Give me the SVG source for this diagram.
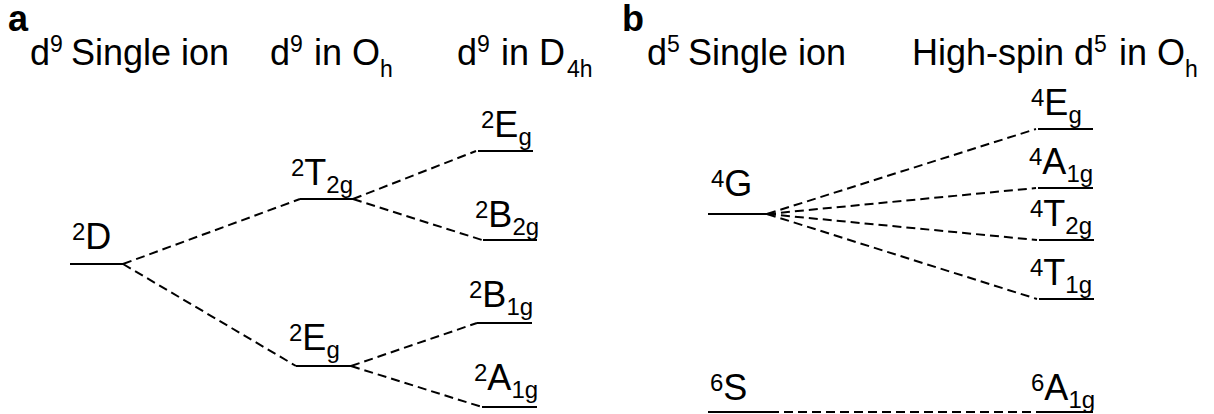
<svg xmlns="http://www.w3.org/2000/svg" width="1214" height="414" viewBox="0 0 1214 414">
<style>
text{font-family:"Liberation Sans",Arial,sans-serif;fill:#000}
.hdr{font-size:36px}
.pl{font-size:36px;font-weight:bold}
.lbl{font-size:36px}
.sm{font-size:24px}
.hs{font-size:23px}
.lvl{stroke:#000;stroke-width:2;fill:none}
.cn{stroke:#000;stroke-width:2;fill:none;stroke-dasharray:9 5}
</style>
<rect width="1214" height="414" fill="#fff"/>
<g id="headers">
<text class="pl" x="8" y="31">a</text>
<text class="pl" x="622" y="31">b</text>
<text class="hdr" x="30" y="65">d<tspan class="hs" dy="-13">9</tspan><tspan x="71" dy="13">Single ion</tspan></text>
<text class="hdr" x="270" y="65">d<tspan class="hs" dy="-13">9</tspan><tspan x="314" dy="13">in O</tspan><tspan class="hs" x="380" dy="12">h</tspan></text>
<text class="hdr" x="457" y="65">d<tspan class="hs" dy="-13">9</tspan><tspan x="501" dy="13">in D</tspan><tspan class="hs" x="567" dy="12">4h</tspan></text>
<text class="hdr" x="647" y="65">d<tspan class="hs" dy="-13">5</tspan><tspan x="688" dy="13">Single ion</tspan></text>
<text class="hdr" x="912" y="65">High-spin d<tspan class="hs" dy="-13">5</tspan><tspan x="1119" dy="13">in O</tspan><tspan class="hs" x="1185" dy="12">h</tspan></text>
</g>
<g id="connectors">
<line class="cn" x1="123" y1="264" x2="300" y2="199"/>
<line class="cn" x1="123" y1="264" x2="296" y2="366"/>
<line class="cn" x1="353" y1="199" x2="476" y2="151"/>
<line class="cn" x1="353" y1="199" x2="482" y2="240"/>
<line class="cn" x1="351" y1="366" x2="477" y2="323"/>
<line class="cn" x1="351" y1="366" x2="482" y2="407"/>
<line class="cn" x1="767" y1="214" x2="1036" y2="129"/>
<line class="cn" x1="767" y1="214" x2="1036" y2="188"/>
<line class="cn" x1="767" y1="214" x2="1037" y2="240"/>
<line class="cn" x1="767" y1="214" x2="1037" y2="299"/>
<line class="cn" x1="770" y1="412" x2="1038" y2="412"/>
</g>
<g id="a-2D">
<line class="lvl" x1="70" y1="264" x2="123" y2="264"/>
<text class="lbl" x="72" y="249"><tspan class="sm" dy="-9">2</tspan><tspan dy="9">D</tspan></text>
</g>
<g id="a-2T2g">
<line class="lvl" x1="300" y1="199" x2="353" y2="199"/>
<text class="lbl" x="291" y="185"><tspan class="sm" dy="-9">2</tspan><tspan dy="9">T</tspan><tspan class="sm" dy="8">2g</tspan></text>
</g>
<g id="a-2Eg-Oh">
<line class="lvl" x1="296" y1="366" x2="351" y2="366"/>
<text class="lbl" x="289" y="350"><tspan class="sm" dy="-9">2</tspan><tspan dy="9">E</tspan><tspan class="sm" dy="8">g</tspan></text>
</g>
<g id="a-2Eg-D4h">
<line class="lvl" x1="478" y1="151" x2="533" y2="151"/>
<text class="lbl" x="481" y="137"><tspan class="sm" dy="-9">2</tspan><tspan dy="9">E</tspan><tspan class="sm" dy="8">g</tspan></text>
</g>
<g id="a-2B2g">
<line class="lvl" x1="483" y1="240" x2="537" y2="240"/>
<text class="lbl" x="475" y="227"><tspan class="sm" dy="-9">2</tspan><tspan dy="9">B</tspan><tspan class="sm" dy="8">2g</tspan></text>
</g>
<g id="a-2B1g">
<line class="lvl" x1="477" y1="323" x2="532" y2="323"/>
<text class="lbl" x="469" y="307"><tspan class="sm" dy="-9">2</tspan><tspan dy="9">B</tspan><tspan class="sm" dy="8">1g</tspan></text>
</g>
<g id="a-2A1g">
<line class="lvl" x1="482" y1="407" x2="537" y2="407"/>
<text class="lbl" x="474" y="390"><tspan class="sm" dy="-9">2</tspan><tspan dy="9">A</tspan><tspan class="sm" dy="8">1g</tspan></text>
</g>
<g id="b-4G">
<line class="lvl" x1="708" y1="214" x2="767" y2="214"/>
<text class="lbl" x="711" y="196"><tspan class="sm" dy="-9">4</tspan><tspan dy="9">G</tspan></text>
</g>
<g id="b-4Eg">
<line class="lvl" x1="1038" y1="129" x2="1093" y2="129"/>
<text class="lbl" x="1031" y="115"><tspan class="sm" dy="-9">4</tspan><tspan dy="9">E</tspan><tspan class="sm" dy="8">g</tspan></text>
</g>
<g id="b-4A1g">
<line class="lvl" x1="1038" y1="188" x2="1093" y2="188"/>
<text class="lbl" x="1029" y="174"><tspan class="sm" dy="-9">4</tspan><tspan dy="9">A</tspan><tspan class="sm" dy="8">1g</tspan></text>
</g>
<g id="b-4T2g">
<line class="lvl" x1="1039" y1="240" x2="1094" y2="240"/>
<text class="lbl" x="1030" y="226"><tspan class="sm" dy="-9">4</tspan><tspan dy="9">T</tspan><tspan class="sm" dy="8">2g</tspan></text>
</g>
<g id="b-4T1g">
<line class="lvl" x1="1039" y1="299" x2="1094" y2="299"/>
<text class="lbl" x="1030" y="285"><tspan class="sm" dy="-9">4</tspan><tspan dy="9">T</tspan><tspan class="sm" dy="8">1g</tspan></text>
</g>
<g id="b-6S">
<line class="lvl" x1="708" y1="412" x2="770" y2="412"/>
<text class="lbl" x="710" y="400"><tspan class="sm" dy="-9">6</tspan><tspan dy="9">S</tspan></text>
</g>
<g id="b-6A1g">
<line class="lvl" x1="1038" y1="412" x2="1093" y2="412"/>
<text class="lbl" x="1031" y="400"><tspan class="sm" dy="-9">6</tspan><tspan dy="9">A</tspan><tspan class="sm" dy="8">1g</tspan></text>
</g>
</svg>
